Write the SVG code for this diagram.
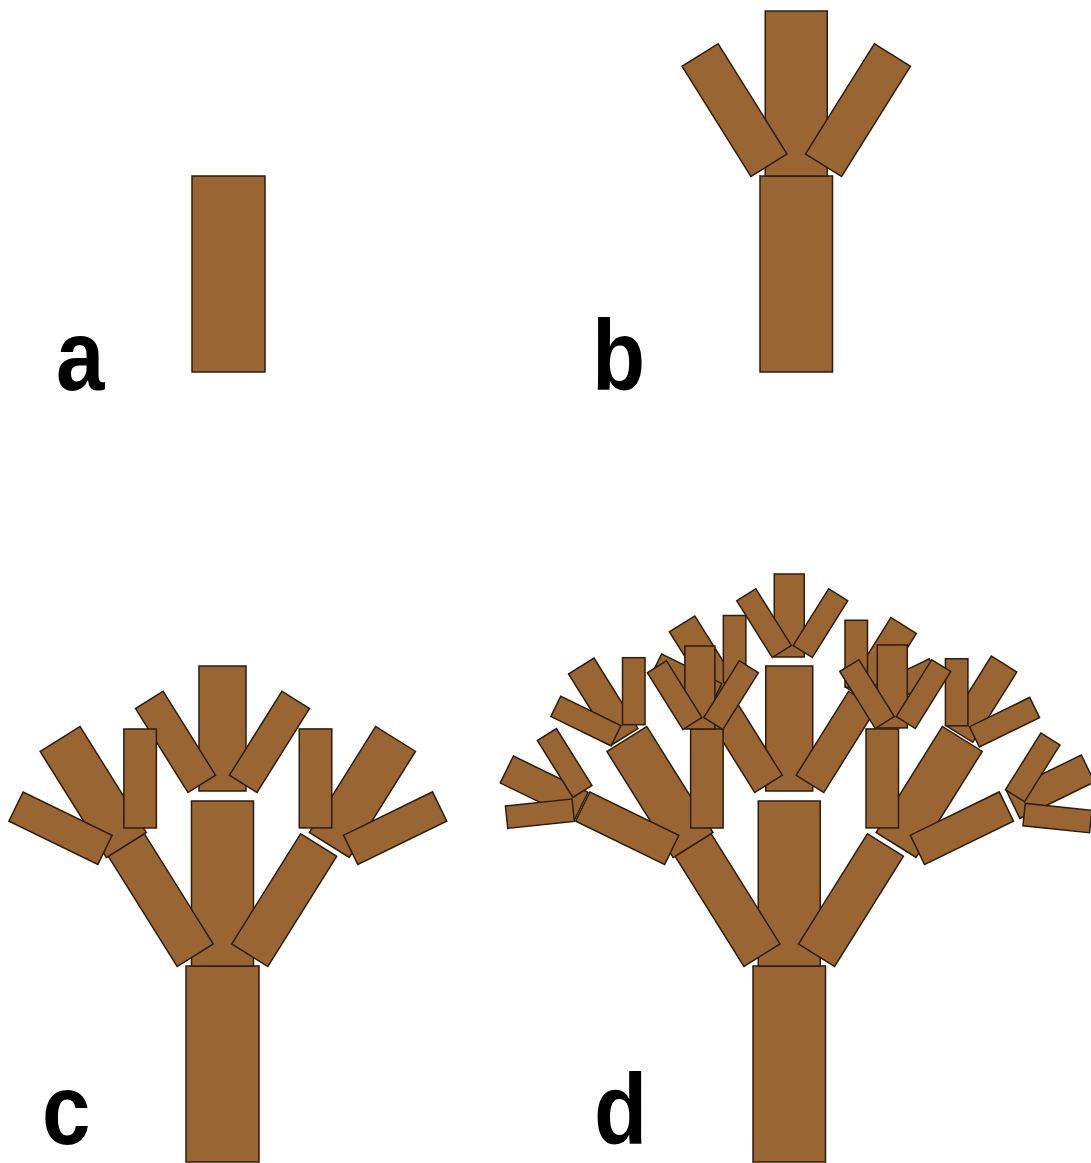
<svg xmlns="http://www.w3.org/2000/svg" width="1091" height="1163" viewBox="0 0 1091 1163">
  <style>
    .br { fill: #996633; stroke: #2e1c0c; stroke-width: 1.5; }
    .lbl { font-family: "Liberation Sans", Arial, sans-serif; font-weight: bold; font-size: 100px; fill: #000; }
  </style>
  <rect x="0" y="0" width="1091" height="1163" fill="#ffffff"/>

  <!-- a: single segment -->
  <g id="panel-a">
    <rect class="br" x="192" y="176" width="73" height="196"/>
  </g>

  <!-- b: one generation -->
  <g id="panel-b">
    <rect class="br" x="760" y="176" width="72.5" height="196"/>
    <g transform="translate(796.25,176)">
      <rect class="br" x="-31" y="-165" width="62" height="165"/>
      <g transform="translate(-45.3,0.5) rotate(-32)"><rect class="br" x="0" y="-130" width="42.5" height="130"/></g>
      <g transform="translate(45.3,0.5) rotate(32)"><rect class="br" x="-42.5" y="-130" width="42.5" height="130"/></g>
    </g>
  </g>

  <!-- c: two generations -->
  <g id="panel-c">
    <rect class="br" x="186" y="966" width="73" height="196"/>
    <g transform="translate(222.5,966)">
      <rect class="br" x="-31" y="-165" width="62" height="165"/>
      <g transform="translate(0,-175)">
        <rect class="br" x="-23.5" y="-125" width="47" height="125"/>
        <g transform="translate(-34.5,1.5) rotate(-32)"><rect class="br" x="0" y="-99" width="32.5" height="99"/></g>
        <g transform="translate(34.5,1.5) rotate(32)"><rect class="br" x="-32.5" y="-99" width="32.5" height="99"/></g>
      </g>
      <g transform="translate(-45.3,0.5) rotate(-32)">
        <rect class="br" x="0" y="-130" width="42.5" height="130"/>
        <g transform="translate(21.25,-130)">
          <rect class="br" x="-23.5" y="-125" width="47" height="125"/>
          <g transform="translate(-34.5,1.5) rotate(-32)"><rect class="br" x="0" y="-99" width="32.5" height="99"/></g>
          <g transform="translate(34.5,1.5) rotate(32)"><rect class="br" x="-32.5" y="-99" width="32.5" height="99"/></g>
        </g>
      </g>
      <g transform="translate(45.3,0.5) rotate(32)">
        <rect class="br" x="-42.5" y="-130" width="42.5" height="130"/>
        <g transform="translate(-12.25,-135.7)">
          <rect class="br" x="-23.5" y="-125" width="47" height="125"/>
          <g transform="translate(-34.5,1.5) rotate(-32)"><rect class="br" x="0" y="-99" width="32.5" height="99"/></g>
          <g transform="translate(34.5,1.5) rotate(32)"><rect class="br" x="-32.5" y="-99" width="32.5" height="99"/></g>
        </g>
      </g>
    </g>
  </g>

  <!-- d: three generations -->
  <g id="panel-d">
    <rect class="br" x="753" y="966" width="72.5" height="196"/>
    <g transform="translate(789.25,966)">
      <rect class="br" x="-31" y="-165" width="62" height="165"/>
      <g transform="translate(0,-175)">
        <rect class="br" x="-23.5" y="-125" width="47" height="125"/>
        <g transform="translate(0,-134)">
          <rect class="br" x="-15" y="-83" width="30" height="83"/>
          <g transform="translate(-17,0.5) rotate(-32)"><rect class="br" x="0" y="-67" width="22.5" height="67"/></g>
          <g transform="translate(23,0.5) rotate(32)"><rect class="br" x="-22.5" y="-67" width="22.5" height="67"/></g>
        </g>
        <g transform="translate(-34.5,1.5) rotate(-32)">
          <rect class="br" x="0" y="-99" width="32.5" height="99"/>
          <g transform="translate(27.75,-98.5)">
            <rect class="br" x="-15" y="-83" width="30" height="83"/>
            <g transform="translate(-17,0.5) rotate(-32)"><rect class="br" x="0" y="-67" width="22.5" height="67"/></g>
            <g transform="translate(23,0.5) rotate(32)"><rect class="br" x="-22.5" y="-67" width="22.5" height="67"/></g>
          </g>
        </g>
        <g transform="translate(34.5,1.5) rotate(32)">
          <rect class="br" x="-32.5" y="-99" width="32.5" height="99"/>
          <g transform="translate(-20.75,-101)">
            <rect class="br" x="-15" y="-83" width="30" height="83"/>
            <g transform="translate(-17,0.5) rotate(-32)"><rect class="br" x="0" y="-67" width="22.5" height="67"/></g>
            <g transform="translate(23,0.5) rotate(32)"><rect class="br" x="-22.5" y="-67" width="22.5" height="67"/></g>
          </g>
        </g>
      </g>
      <g transform="translate(-45.3,0.5) rotate(-32)">
        <rect class="br" x="0" y="-130" width="42.5" height="130"/>
        <g transform="translate(21.25,-130)">
          <rect class="br" x="-23.5" y="-125" width="47" height="125"/>
          <g transform="translate(0,-128)">
            <rect class="br" x="-15" y="-83" width="30" height="83"/>
            <g transform="translate(-17,0.5) rotate(-32)"><rect class="br" x="0" y="-67" width="22.5" height="67"/></g>
            <g transform="translate(23,0.5) rotate(32)"><rect class="br" x="-22.5" y="-67" width="22.5" height="67"/></g>
          </g>
          <g transform="translate(-34.5,1.5) rotate(-32)">
            <rect class="br" x="0" y="-99" width="32.5" height="99"/>
            <g transform="translate(16.25,-100.5)">
              <rect class="br" x="-15" y="-83" width="30" height="83"/>
              <g transform="translate(-17,0.5) rotate(-32)"><rect class="br" x="0" y="-67" width="22.5" height="67"/></g>
              <g transform="translate(23,0.5) rotate(32)"><rect class="br" x="-22.5" y="-67" width="22.5" height="67"/></g>
            </g>
          </g>
          <g transform="translate(34.5,1.5) rotate(32)">
            <rect class="br" x="-32.5" y="-99" width="32.5" height="99"/>
            <g transform="translate(-23.25,-99)">
              <rect class="br" x="-15" y="-83" width="30" height="83"/>
              <g transform="translate(-17,0.5) rotate(-32)"><rect class="br" x="0" y="-67" width="22.5" height="67"/></g>
              <g transform="translate(23,0.5) rotate(32)"><rect class="br" x="-22.5" y="-67" width="22.5" height="67"/></g>
            </g>
          </g>
        </g>
      </g>
      <g transform="translate(45.3,0.5) rotate(32)">
        <rect class="br" x="-42.5" y="-130" width="42.5" height="130"/>
        <g transform="translate(-12.25,-135.7)">
          <rect class="br" x="-23.5" y="-125" width="47" height="125"/>
          <g transform="translate(-4.3,-127.7)">
            <rect class="br" x="-15" y="-83" width="30" height="83"/>
            <g transform="translate(-17,0.5) rotate(-32)"><rect class="br" x="0" y="-67" width="22.5" height="67"/></g>
            <g transform="translate(23,0.5) rotate(32)"><rect class="br" x="-22.5" y="-67" width="22.5" height="67"/></g>
          </g>
          <g transform="translate(-34.5,1.5) rotate(-32)">
            <rect class="br" x="0" y="-99" width="32.5" height="99"/>
            <g transform="translate(26.25,-100)">
              <rect class="br" x="-15" y="-83" width="30" height="83"/>
              <g transform="translate(-17,0.5) rotate(-32)"><rect class="br" x="0" y="-67" width="22.5" height="67"/></g>
              <g transform="translate(23,0.5) rotate(32)"><rect class="br" x="-22.5" y="-67" width="22.5" height="67"/></g>
            </g>
          </g>
          <g transform="translate(34.5,1.5) rotate(32)">
            <rect class="br" x="-32.5" y="-99" width="32.5" height="99"/>
            <g transform="translate(-14.65,-105.9)">
              <rect class="br" x="-15" y="-83" width="30" height="83"/>
              <g transform="translate(-17,0.5) rotate(-32)"><rect class="br" x="0" y="-67" width="22.5" height="67"/></g>
              <g transform="translate(23,0.5) rotate(32)"><rect class="br" x="-22.5" y="-67" width="22.5" height="67"/></g>
            </g>
          </g>
        </g>
      </g>
    </g>
  </g>

  <!-- panel letters -->
  <g id="labels">
    <text class="lbl" transform="translate(56,390) scale(0.87,1)">a</text>
    <text class="lbl" transform="translate(592,390) scale(0.87,1)">b</text>
    <text class="lbl" transform="translate(42,1144) scale(0.87,1)">c</text>
    <text class="lbl" transform="translate(594,1144) scale(0.87,1)">d</text>
  </g>
</svg>
